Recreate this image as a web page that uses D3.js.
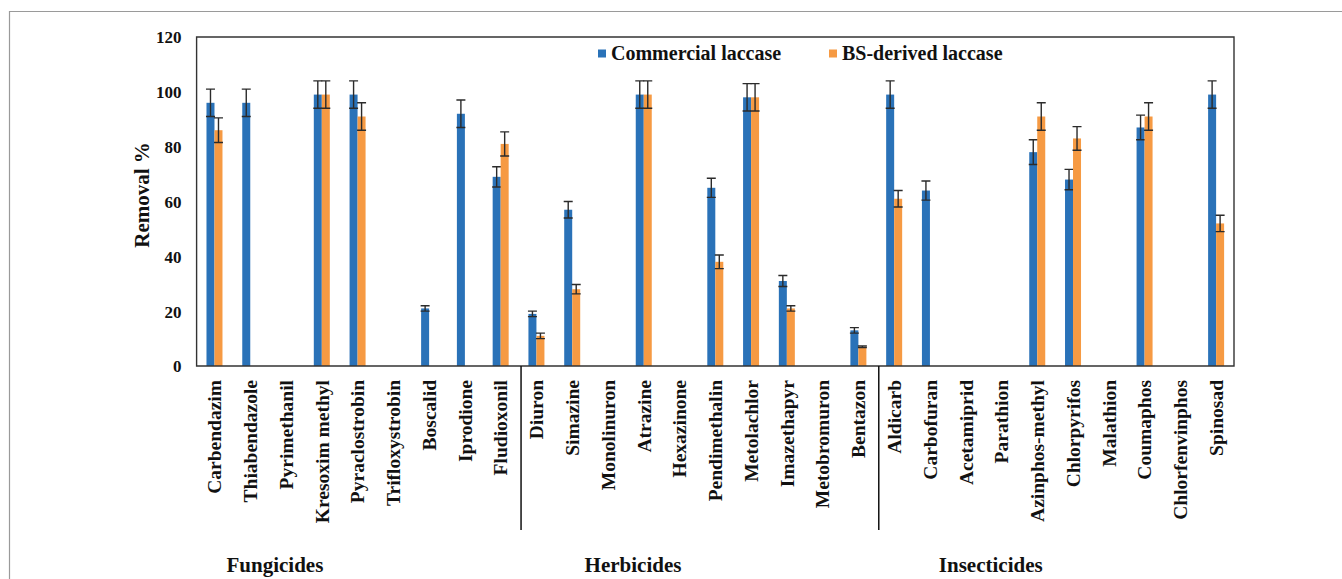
<!DOCTYPE html>
<html>
<head>
<meta charset="utf-8">
<script src="https://cdn.jsdelivr.net/npm/d3@7"></script>
<style>
  html, body { margin: 0; padding: 0; background: #fff; }
  svg { display: block; }
</style>
</head>
<body>
<svg id="chart" width="1342" height="579"></svg>
<script>
// Pesticide names, in plotting order
const categories = [
  "Carbendazim", "Thiabendazole", "Pyrimethanil", "Kresoxim methyl", "Pyraclostrobin",
  "Trifloxystrobin", "Boscalid", "Iprodione", "Fludioxonil",
  "Diuron", "Simazine", "Monolinuron", "Atrazine", "Hexazinone", "Pendimethalin",
  "Metolachlor", "Imazethapyr", "Metobromuron", "Bentazon",
  "Aldicarb", "Carbofuran", "Acetamiprid", "Parathion", "Azinphos-methyl", "Chlorpyrifos",
  "Malathion", "Coumaphos", "Chlorfenvinphos", "Spinosad"
];

// Pesticide classes and how many compounds each holds
const groupNames = ["Fungicides", "Herbicides", "Insecticides"];
const groupSizes = [9, 10, 10];

// Series names
const seriesNames = ["Commercial laccase", "BS-derived laccase"];

// Removal % (null = not removed / no bar)
const commercial = [96, 96, null, 99, 99, null, 21, 92, 69,
                    19, 57, null, 99, null, 65, 98, 31, null, 13,
                    99, 64, null, null, 78, 68, null, 87, null, 99];
const commercialErr = [5, 5, null, 5, 5, null, 1, 5, 3.7,
                       1, 3, null, 5, null, 3.5, 5, 2, null, 1,
                       5, 3.5, null, null, 4.5, 3.7, null, 4.5, null, 5];
const bsDerived = [86, null, null, 99, 91, null, null, null, 81,
                   11, 28, null, 99, null, 38, 98, 21, null, 7,
                   61, null, null, null, 91, 83, null, 91, null, 52];
const bsDerivedErr = [4.5, null, null, 5, 5, null, null, null, 4.4,
                      1, 1.7, null, 5, null, 2.5, 5, 1, null, 0.3,
                      3, null, null, null, 5, 4.3, null, 5, null, 3];

// Y axis ticks
const yTicks = [0, 20, 40, 60, 80, 100, 120];

const colors = ["#2a72b8", "#f69a43"];
const FONT = '"Liberation Serif", "Times New Roman", serif';

const svg = d3.select("#chart");
const plot = { left: 196.6, right: 1234, top: 37, bottom: 366 };

function serif(sel, size) {
  return sel.style("font-family", FONT).style("font-weight", "bold")
    .style("font-size", size + "px").style("fill", "#111");
}

const x = d3.scaleBand()
  .domain(categories)
  .range([plot.left, plot.right])
  .paddingInner(0).paddingOuter(0);

const y = d3.scaleLinear()
  .domain([0, 120])
  .range([plot.bottom, plot.top]);

const barW = 8;
const series = d3.scaleBand().domain([0, 1]).range([-barW, barW]);

// Outer figure border (top and left edges)
svg.append("path")
  .attr("d", `M9.5,${579} L9.5,11.5 L1342,11.5`)
  .attr("fill", "none").attr("stroke", "#9a9a9a").attr("stroke-width", 1.2);

// Y tick labels
const yAxis = d3.axisLeft(y).tickValues(yTicks).tickSize(0).tickPadding(0);
const gy = svg.append("g").attr("transform", `translate(${plot.left - 15},0)`).call(yAxis);
gy.select(".domain").remove();
serif(gy.selectAll("text"), 17).attr("dy", "0.35em");

// Y title
serif(svg.append("text"), 21)
  .attr("transform", `translate(149,195) rotate(-90)`)
  .attr("text-anchor", "middle")
  .text("Removal %");

// Bars and error bars for both series
const seriesData = [
  { vals: commercial, errs: commercialErr },
  { vals: bsDerived, errs: bsDerivedErr }
];

seriesData.forEach((s, si) => {
  const pts = categories.map((c, i) => ({ c, v: s.vals[i], e: s.errs[i] }))
    .filter(d => d.v !== null);
  const g = svg.append("g");
  g.selectAll("rect").data(pts).join("rect")
    .attr("x", d => x(d.c) + x.bandwidth() / 2 + series(si))
    .attr("y", d => y(d.v))
    .attr("width", series.bandwidth())
    .attr("height", d => y(0) - y(d.v))
    .attr("fill", colors[si]);

  const eg = svg.append("g").attr("stroke", "#2b2b2b").attr("stroke-width", 1.4).attr("fill", "none");
  pts.filter(d => d.e !== null).forEach(d => {
    const cx = x(d.c) + x.bandwidth() / 2 + series(si) + series.bandwidth() / 2;
    const y1 = y(d.v + d.e), y2 = y(d.v - d.e), cw = 4.5;
    eg.append("path")
      .attr("d", `M${cx},${y1} L${cx},${y2} M${cx - cw},${y1} L${cx + cw},${y1} M${cx - cw},${y2} L${cx + cw},${y2}`);
  });
});

// Plot frame: left axis, top, right and baseline
svg.append("path")
  .attr("d", `M${plot.left},${plot.bottom} L${plot.left},${plot.top} L${plot.right},${plot.top} L${plot.right},${plot.bottom} Z`)
  .attr("fill", "none").attr("stroke", "#333").attr("stroke-width", 1.4);

// Category labels (rotated)
const xAxis = d3.axisBottom(x).tickSize(0).tickPadding(0);
const gx = svg.append("g").attr("transform", `translate(0,${plot.bottom})`).call(xAxis);
gx.select(".domain").remove();
serif(gx.selectAll("text"), 19.5)
  .attr("transform", "rotate(-90)")
  .attr("text-anchor", "end")
  .attr("x", -14)
  .attr("y", 0)
  .attr("dy", "0.35em");

// Separators between pesticide classes
let start = 0;
const bounds = [];
groupSizes.forEach((n, gi) => {
  bounds.push({ name: groupNames[gi], first: start, count: n });
  start += n;
});
bounds.slice(1).forEach(b => {
  const bx = x(categories[b.first]) + 2.5;
  svg.append("line")
    .attr("x1", bx).attr("x2", bx)
    .attr("y1", plot.bottom).attr("y2", 530)
    .attr("stroke", "#111").attr("stroke-width", 1.5);
});

// Class labels, positioned within each class's span of categories
const groupLabelOffset = [2.19, 3.2, 3.2];
bounds.forEach((b, gi) => {
  serif(svg.append("text"), 21)
    .attr("x", x(categories[b.first]) + groupLabelOffset[gi] * x.bandwidth())
    .attr("y", 572)
    .attr("text-anchor", "middle")
    .text(b.name);
});

// Legend
const legendX = [598, 829];
seriesNames.forEach((name, i) => {
  svg.append("rect")
    .attr("x", legendX[i]).attr("y", 49.5)
    .attr("width", 8).attr("height", 8)
    .attr("fill", colors[i]);
  serif(svg.append("text"), 20)
    .attr("x", legendX[i] + 13).attr("y", 59.5)
    .text(name);
});
</script>
</body>
</html>
